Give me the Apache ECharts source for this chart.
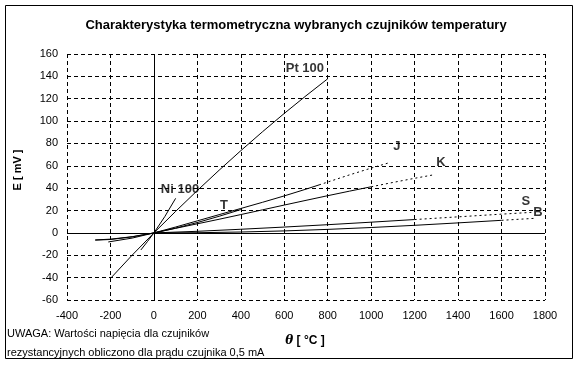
<!DOCTYPE html>
<html><head><meta charset="utf-8">
<script src="https://cdn.jsdelivr.net/npm/echarts@6/dist/echarts.min.js"></script>
<style>html,body{margin:0;padding:0;background:#fff}#c{width:579px;height:365px}</style>
</head><body><div id="c"></div>
<script>
// ---- data ----
const xTicks = [-400,-200,0,200,400,600,800,1000,1200,1400,1600,1800];
const yTicks = [-60,-40,-20,0,20,40,60,80,100,120,140,160];

const pt100 = [[-200,-40.74],[-100,-19.87],[0,0],[100,19.25],[200,37.93],[300,56.03],[400,73.55],[500,90.49],[600,106.86],[700,122.64],[800,137.85]];
const ni100 = [[-60,-15.25],[-30,-7.8],[0,0],[50,14.55],[100,30.9]];
const tSolid = [[-270,-6.26],[-200,-5.60],[-100,-3.38],[0,0],[100,4.28],[200,9.29],[300,14.86],[400,20.87]];
const jSolid = [[-210,-8.10],[-100,-4.63],[0,0],[100,5.27],[200,10.78],[300,16.33],[400,21.85],[500,27.39],[600,33.10],[700,39.13],[760,42.92]];
const jDotted = [[760,42.92],[800,45.49],[900,51.88],[1000,57.95],[1080,62.6]];
const kSolid = [[-270,-6.46],[-200,-5.89],[-100,-3.55],[0,0],[100,4.10],[200,8.14],[300,12.21],[400,16.40],[500,20.64],[600,24.91],[700,29.13],[800,33.28],[900,37.33],[1000,41.28]];
const kDotted = [[1000,41.28],[1100,45.12],[1200,48.84],[1290,52.05]];
const sSolid = [[0,0],[200,1.44],[400,3.26],[600,5.24],[800,7.35],[1000,9.59],[1200,11.95]];
const sDotted = [[1200,11.95],[1400,14.37],[1600,16.78],[1740,18.4]];
const bSolid = [[0,0],[200,0.18],[400,0.79],[600,1.79],[800,3.15],[1000,4.83],[1200,6.78],[1400,8.96],[1600,11.26]];
const bDotted = [[1600,11.26],[1700,12.43],[1750,13.0]];

const labelNames = ['Pt 100','Ni 100','T','J','K','S','B'];
const labelX = [695,120,322,1118,1321,1712,1767];
const labelY = [147.3,39.3,25,77.7,63.4,28.6,17.9];

const titleText = 'Charakterystyka termometryczna wybranych czujników temperatury';
const noteLines = ['UWAGA: Wartości napięcia dla czujników','rezystancyjnych obliczono dla prądu czujnika 0,5 mA'];

// ---- chart ----
const FONT = 'Liberation Sans, Arial, sans-serif';
const chart = echarts.init(document.getElementById('c'), null, {renderer:'canvas'});
function ln(data, dotted){
  return {type:'line', data:data, symbol:'none', silent:true, animation:false,
    lineStyle:{color:'#000', width:1, type: dotted ? [2,3] : 'solid'}};
}
const series = [
  ln(pt100), ln(ni100), ln(tSolid), ln(jSolid), ln(jDotted,true), ln(kSolid), ln(kDotted,true),
  ln(sSolid), ln(sDotted,true), ln(bSolid), ln(bDotted,true)
];
series[0].markLine = {symbol:'none', silent:true, animation:false, label:{show:false},
  lineStyle:{color:'#000', type:'solid', width:1}, data:[{xAxis:0},{yAxis:0}]};
series.push({type:'scatter', symbolSize:0, silent:true, animation:false,
  data: labelNames.map((n,i)=>({name:n, value:[labelX[i], labelY[i]]})),
  label:{show:true, position:'inside', formatter:p=>p.name, color:'#000',
    fontFamily:FONT, fontWeight:'bold', fontSize:13}});

chart.setOption({
  animation:false,
  backgroundColor:'#fff',
  title:{text:titleText, left:291, top:14, textAlign:'center',
    textStyle:{fontFamily:FONT, fontWeight:'bold', fontSize:13, color:'#000'}},
  grid:{left:67, right:34, top:54, bottom:65, containLabel:false},
  xAxis:{type:'value', min:xTicks[0], max:xTicks[xTicks.length-1], interval:200,
    axisLine:{show:false}, axisTick:{show:false},
    axisLabel:{color:'#000', fontFamily:FONT, fontSize:11, margin:10, formatter:v=>String(v)},
    splitLine:{show:true, lineStyle:{color:'#000', type:[4,3], width:1}}},
  yAxis:{type:'value', min:yTicks[0], max:yTicks[yTicks.length-1], interval:20,
    axisLine:{show:false}, axisTick:{show:false},
    axisLabel:{color:'#000', fontFamily:FONT, fontSize:11, margin:9, formatter:v=>String(v)},
    splitLine:{show:true, lineStyle:{color:'#000', type:[4,3], width:1}}},
  graphic:[
    {type:'rect', shape:{x:5.5, y:5.5, width:567, height:353}, style:{fill:'none', stroke:'#000', lineWidth:1}, silent:true},
    {type:'text', x:18, y:170, rotation:Math.PI/2, style:{text:'E [ mV ]', fontFamily:FONT, fontWeight:'bold', fontSize:11, fill:'#000', textAlign:'center', textVerticalAlign:'middle'}},
    {type:'text', x:305, y:341, style:{text:'{t|θ} [ °C ]', fontFamily:FONT, fontWeight:'bold', fontSize:12, fill:'#000', align:'center', verticalAlign:'middle',
      rich:{t:{fontFamily:'DejaVu Serif, serif', fontStyle:'italic', fontWeight:'bold', fontSize:12, fill:'#000'}}}},
    {type:'text', x:7, y:334, style:{text:noteLines[0], fontFamily:FONT, fontSize:11, fill:'#000', verticalAlign:'middle'}},
    {type:'text', x:7, y:353, style:{text:noteLines[1], fontFamily:FONT, fontSize:11, fill:'#000', verticalAlign:'middle'}}
  ],
  series:series
});
</script></body></html>
